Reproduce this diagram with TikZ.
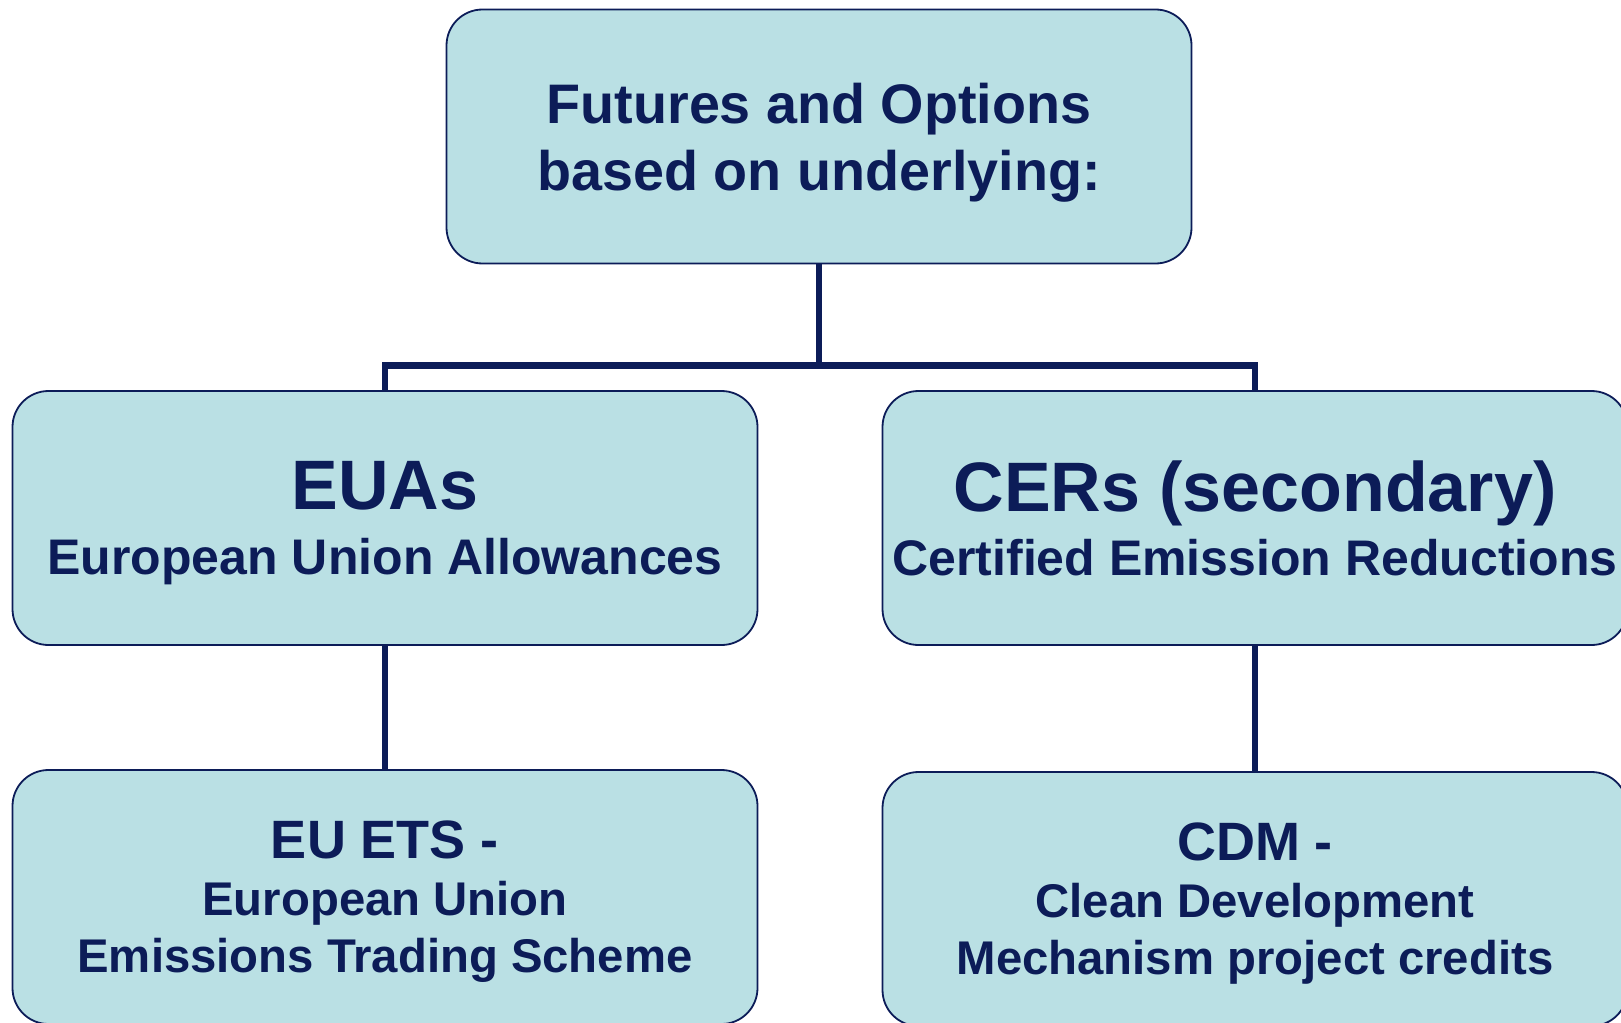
\documentclass[tikz,border=0pt]{standalone}
\usepackage{fontspec}
\setmainfont{Liberation Sans}
\usepackage{tikz}
\definecolor{boxfill}{RGB}{186,224,228}
\definecolor{navy}{RGB}{12,28,88}
\tikzset{
	unitbox/.style={draw=navy, line width=1.8pt, fill=boxfill, rounded corners=36pt, minimum width=745pt, minimum height=254pt, align=center, text=navy, text depth=0pt, inner sep=0pt},
	branch/.style={draw=navy, line width=6.5pt}
}

\begin{document}
\begin{tikzpicture}[x=1pt,y=1pt]
			%%%%% START %%%%%
			
			\useasboundingbox (0, 0) rectangle (1621, -1022);
			\clip (0, 0) rectangle (1621, -1022);
			
			\node[unitbox, font=\bfseries\fontsize{55.7}{67}\selectfont] (futures) at (819, -136.5) {Futures and Options\\based on underlying:};
			
			\node[unitbox, font=\bfseries\fontsize{50}{64.3}\selectfont] (euas) at (385, -518) {{\fontsize{70}{64.3}\selectfont EUAs}\\European Union Allowances};
			\node[unitbox, font=\bfseries\fontsize{50}{64.3}\selectfont] (cers) at (1255, -518) {{\fontsize{70}{64.3}\selectfont CERs (secondary)}\\Certified Emission Reductions};
			
			\node[unitbox, font=\bfseries\fontsize{47.3}{57}\selectfont] (euets) at (385, -897) {{\fontsize{54}{57}\selectfont EU ETS -}\\European Union\\Emissions Trading Scheme};
			\node[unitbox, font=\bfseries\fontsize{47.3}{57}\selectfont] (cdm) at (1255, -899) {{\fontsize{54}{57}\selectfont CDM -}\\Clean Development\\Mechanism project credits};
			
			\draw[branch] (futures.south) -- ++(0, -101) coordinate (fork);
			\draw[branch] (euas.north) |- (fork) -| (cers.north);
			
			\draw[branch] (euas.south) -- (euets.north);
			\draw[branch] (cers.south) -- (cdm.north);
			
			%%%%% END %%%%%
\end{tikzpicture}
\end{document}
